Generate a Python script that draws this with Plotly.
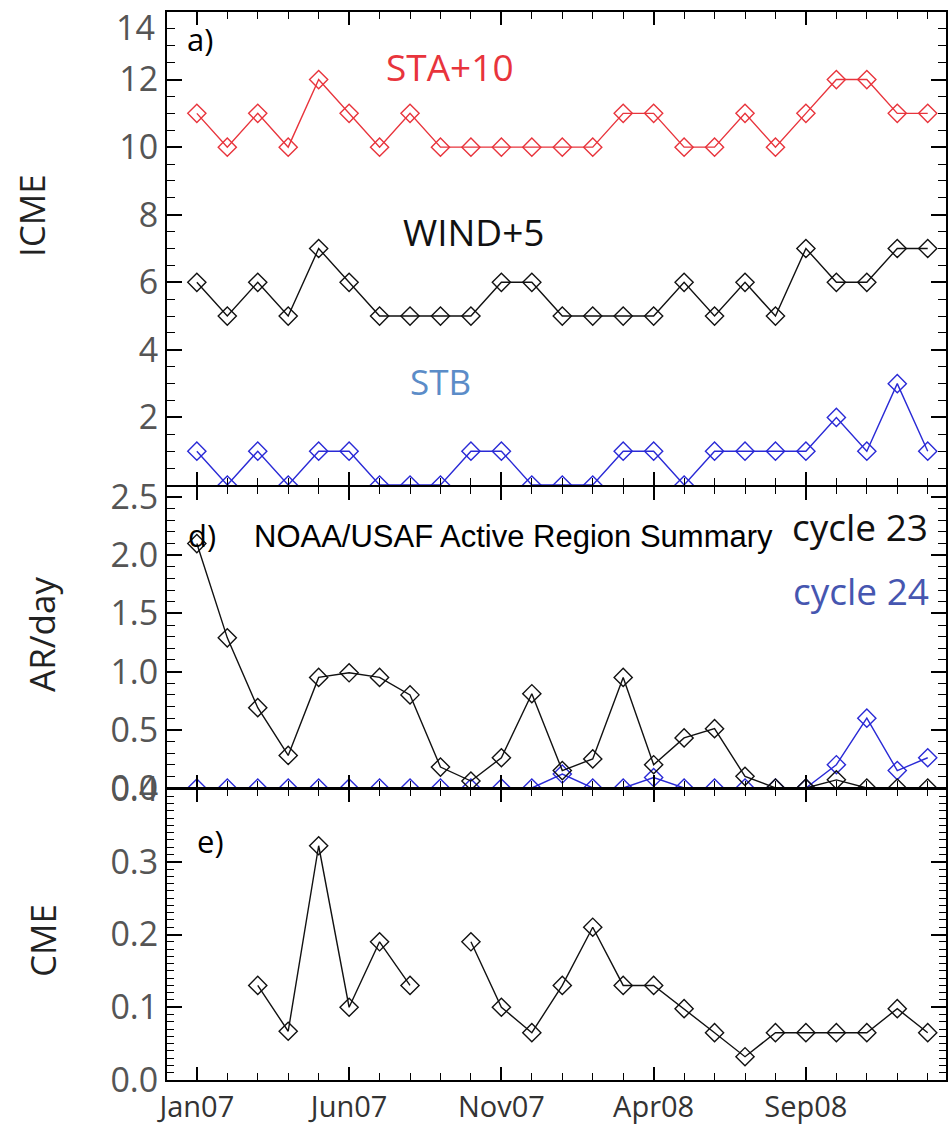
import plotly.graph_objects as go

# ---------------- data ----------------
months = list(range(25))                      # Jan07 ... Jan09, monthly
tick_pos = [0, 5, 10, 15, 20]
tick_labels = ["Jan07", "Jun07", "Nov07", "Apr08", "Sep08"]

sta_plus10 = [11, 10, 11, 10, 12, 11, 10, 11, 10, 10, 10, 10, 10, 10, 11, 11, 10, 10, 11, 10, 11, 12, 12, 11, 11]
wind_plus5 = [6, 5, 6, 5, 7, 6, 5, 5, 5, 5, 6, 6, 5, 5, 5, 5, 6, 5, 6, 5, 7, 6, 6, 7, 7]
stb = [1, 0, 1, 0, 1, 1, 0, 0, 0, 1, 1, 0, 0, 0, 1, 1, 0, 1, 1, 1, 1, 2, 1, 3, 1]

ar_cycle23 = [2.10, 1.29, 0.69, 0.28, 0.95, 0.99, 0.95, 0.80, 0.18, 0.06, 0.26, 0.81, 0.15,
              0.25, 0.95, 0.20, 0.43, 0.51, 0.10, 0.0, 0.0, 0.07, 0.0, 0.0, 0.0]
ar_cycle24 = [0, 0, 0, 0, 0, 0, 0, 0, 0, 0, 0, 0, 0.12, 0, 0, 0.09, 0, 0, 0, 0, 0, 0.20, 0.60, 0.15, 0.26]

cme = [None, None, 0.13, 0.067, 0.322, 0.10, 0.19, 0.13, None, 0.19, 0.10, 0.065, 0.13,
       0.21, 0.13, 0.13, 0.098, 0.065, 0.032, 0.065, 0.065, 0.065, 0.065, 0.098, 0.065]

# ---------------- layout helpers ----------------
W, H = 951, 1133
L, R, T, B = 167, 946, 12, 1080


def px(x):
    return (x - L) / (R - L)


def py(y):
    return (B - y) / (B - T)


RED = "#e8343c"
BLUE = "#2a2ad6"
BLACK = "#111111"


def mk(c):
    return dict(symbol="diamond-open", size=14, color=c, line=dict(width=1.4, color=c))


fig = go.Figure()
# panel a
fig.add_trace(go.Scatter(x=months, y=sta_plus10, mode="lines+markers", line=dict(color=RED, width=1.4),
                         marker=mk(RED), xaxis="x", yaxis="y", name="STA+10"))
fig.add_trace(go.Scatter(x=months, y=wind_plus5, mode="lines+markers", line=dict(color=BLACK, width=1.4),
                         marker=mk(BLACK), xaxis="x", yaxis="y", name="WIND+5"))
fig.add_trace(go.Scatter(x=months, y=stb, mode="lines+markers", line=dict(color=BLUE, width=1.4),
                         marker=mk(BLUE), xaxis="x", yaxis="y", name="STB"))
# panel d
fig.add_trace(go.Scatter(x=months, y=ar_cycle24, mode="lines+markers", line=dict(color=BLUE, width=1.4),
                         marker=mk(BLUE), xaxis="x2", yaxis="y2", name="cycle 24"))
fig.add_trace(go.Scatter(x=months, y=ar_cycle23, mode="lines+markers", line=dict(color=BLACK, width=1.4),
                         marker=mk(BLACK), xaxis="x2", yaxis="y2", name="cycle 23"))
# panel e
fig.add_trace(go.Scatter(x=months, y=cme, mode="lines+markers", line=dict(color=BLACK, width=1.4),
                         marker=mk(BLACK), connectgaps=False, xaxis="x3", yaxis="y3", name="CME"))

TICKFONT = dict(family="Open Sans", size=34, color="#555555")

xcommon = dict(range=[-0.98, 24.6], tickmode="array", tickvals=tick_pos, ticktext=tick_labels,
               ticks="inside", ticklen=13, tickwidth=1.5, tickcolor="black",
               minor=dict(dtick=1, tick0=0, ticklen=7, ticks="inside", tickcolor="black", tickwidth=1.2),
               showline=True, linewidth=2, linecolor="black", mirror="ticks",
               showgrid=False, zeroline=False, fixedrange=True, automargin=False)
ycommon = dict(ticks="inside", ticklen=15, tickwidth=1.5, tickcolor="black",
               showline=True, linewidth=2, linecolor="black", mirror="ticks",
               showgrid=False, zeroline=False, tickfont=TICKFONT, fixedrange=True, automargin=False)

fig.update_layout(
    template="none",
    width=W, height=H,
    margin=dict(l=L, r=W - R, t=T, b=H - B, pad=0, autoexpand=False),
    paper_bgcolor="white", plot_bgcolor="white",
    showlegend=False,
    xaxis=dict(**xcommon, domain=[0, 1], anchor="y", showticklabels=False),
    xaxis2=dict(**xcommon, domain=[0, 1], anchor="y2", showticklabels=False, matches="x"),
    xaxis3=dict(**xcommon, domain=[0, 1], anchor="y3", showticklabels=True, matches="x",
                tickfont=dict(family="Open Sans", size=29, color="#333333")),
    yaxis=dict(**ycommon, domain=[py(485), 1], range=[0, 14], tickmode="array",
               tickvals=[2, 4, 6, 8, 10, 12, 14], ticktext=["2", "4", "6", "8", "10", "12", "14"],
               minor=dict(dtick=0.5, tick0=0, ticklen=8, ticks="inside", tickcolor="black", tickwidth=1.2)),
    yaxis2=dict(**ycommon, domain=[py(788), py(487)], range=[0, 2.586], tickmode="array",
                tickvals=[0, 0.5, 1.0, 1.5, 2.0, 2.5], ticktext=["0.0", "0.5", "1.0", "1.5", "2.0", "2.5"],
                minor=dict(dtick=0.1, tick0=0, ticklen=8, ticks="inside", tickcolor="black", tickwidth=1.2)),
    yaxis3=dict(**ycommon, domain=[0, py(789)], range=[0, 0.4], tickmode="array",
                tickvals=[0, 0.1, 0.2, 0.3, 0.4], ticktext=["0.0", "0.1", "0.2", "0.3", "0.4"],
                minor=dict(dtick=0.01, tick0=0, ticklen=7, ticks="inside", tickcolor="black", tickwidth=1.0)),
)


def ann(text, x, y, size, color="black", family="Open Sans", angle=0, xanchor="center"):
    fig.add_annotation(text=text, x=px(x), y=py(y), xref="paper", yref="paper", showarrow=False,
                       font=dict(family=family, size=size, color=color), textangle=angle,
                       xanchor=xanchor, yanchor="middle")


# top tick label of panel a (drawn inside the figure edge, as in the original)
ann("14", 157, 27, 34, "#555555", xanchor="right")

ann("a)", 200, 39, 31)
ann("STA+10", 450, 66, 37, RED)
ann("WIND+5", 474, 231, 37, BLACK)
ann("STB", 440, 381, 35, "#5b8cc8")

ann("d)", 202, 535, 31)
ann("NOAA/USAF Active Region Summary", 252, 536, 31, "black", "Liberation Sans", xanchor="left")
ann("cycle 23", 860, 526, 37, BLACK)
ann("cycle 24", 861, 590, 37, "#4656b0")

ann("e)", 210, 841, 31)

ann("ICME", 31, 216, 35, "#222222", angle=-90)
ann("AR/day", 42, 635, 35, "#222222", angle=-90)
ann("CME", 42, 941, 35, "#222222", angle=-90)

fig.write_html("out.html", config={"displayModeBar": False},
               post_script="document.body.style.margin='0';document.documentElement.style.overflow='hidden';")
